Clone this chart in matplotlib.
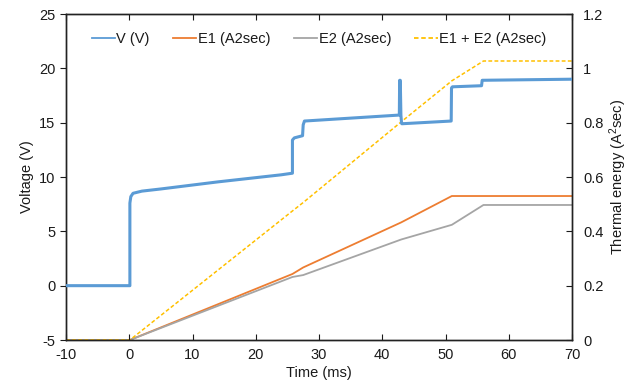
import matplotlib
matplotlib.use("Agg")
import matplotlib.pyplot as plt

plt.rcParams['font.family'] = ['Liberation Sans', 'DejaVu Sans']
plt.rcParams['font.size'] = 10
plt.rcParams['axes.unicode_minus'] = False
plt.rcParams['mathtext.fontset'] = 'custom'
plt.rcParams['mathtext.rm'] = 'Liberation Sans'
plt.rcParams['mathtext.it'] = 'Liberation Sans'

# Voltage trace breakpoints (ms, V)
v_time = [-10, 0.1, 0.1, 0.25, 0.6, 2.0, 5.0, 14.0, 24.0, 25.8, 25.8, 26.1, 27.4, 27.5, 27.7,
          42.7, 42.75, 42.85, 42.95, 43.05, 43.1, 50.9, 50.95, 51.1, 55.7, 55.8, 70]
v_vals = [0.0, 0.0, 7.6, 8.2, 8.5, 8.7, 8.9, 9.55, 10.2, 10.35, 13.4, 13.6, 13.8, 14.8, 15.15,
          15.7, 18.9, 18.9, 15.7, 14.95, 14.9, 15.15, 18.2, 18.3, 18.4, 18.9, 19.0]

# Thermal energies (ms, A^2 s)
e_time = [-10, 0.1, 25.8, 27.5, 43.0, 51.0, 56.0, 70]
e1_vals = [0.0, 0.0, 0.243, 0.267, 0.433, 0.530, 0.530, 0.530]
e2_vals = [0.0, 0.0, 0.232, 0.239, 0.370, 0.424, 0.497, 0.497]
esum_vals = [a + b for a, b in zip(e1_vals, e2_vals)]

x_ticks = [-10, 0, 10, 20, 30, 40, 50, 60, 70]
y_ticks = [-5, 0, 5, 10, 15, 20, 25]
y2_ticks = [0, 0.2, 0.4, 0.6, 0.8, 1.0, 1.2]
y2_labels = ['0', '0.2', '0.4', '0.6', '0.8', '1', '1.2']

fig = plt.figure(figsize=(6.35, 3.82), dpi=100)
ax = fig.add_axes([66/635, 1 - 340/382, (572-66)/635, (340-14)/382])
ax2 = ax.twinx()

tc = '#1a1a1a'
lv, = ax.plot(v_time, v_vals, color='#5B9BD5', lw=2.2, label='V (V)', zorder=3)
l1, = ax2.plot(e_time, e1_vals, color='#ED7D31', lw=1.3, label='E1 (A2sec)')
l2, = ax2.plot(e_time, e2_vals, color='#A5A5A5', lw=1.3, label='E2 (A2sec)')
l3, = ax2.plot(e_time, esum_vals, color='#FFC000', lw=1.1, ls=(0, (2.5, 1.5)), label='E1 + E2 (A2sec)')

ax.set_xlim(-10, 70)
ax.set_ylim(-5, 25)
ax2.set_ylim(0, 1.2)
ax.set_xticks(x_ticks)
ax.set_yticks(y_ticks)
ax2.set_yticks(y2_ticks)
ax2.set_yticklabels(y2_labels)

ax.tick_params(axis='x', direction='in', top=True, length=4, colors=tc, labelsize=10.5, pad=6)
ax.tick_params(axis='y', direction='out', length=4, colors=tc, labelsize=10.5)
ax2.tick_params(axis='y', direction='in', length=4, colors=tc, labelsize=10.5, pad=8)

ax.set_xlabel('Time (ms)', fontsize=10.5, color=tc, labelpad=3)
ax.set_ylabel('Voltage (V)', fontsize=10.5, color=tc, labelpad=4)
ax2.set_ylabel('Thermal energy (A$^2$sec)', fontsize=10.5, color=tc, labelpad=3)

for a in (ax, ax2):
    for s in a.spines.values():
        s.set_color('#222222')
        s.set_linewidth(1.0)

ax.set_zorder(ax2.get_zorder() + 1)
ax.patch.set_visible(False)

leg = ax.legend(handles=[lv, l1, l2, l3], loc='upper center', bbox_to_anchor=(0.5, 0.985),
                ncol=4, frameon=False, handlelength=1.6, handletextpad=0.1,
                columnspacing=1.6, fontsize=10.5)
for t in leg.get_texts():
    t.set_color(tc)
for h in leg.legend_handles:
    h.set_linewidth(1.3)

fig.savefig('out.png', dpi=100)
